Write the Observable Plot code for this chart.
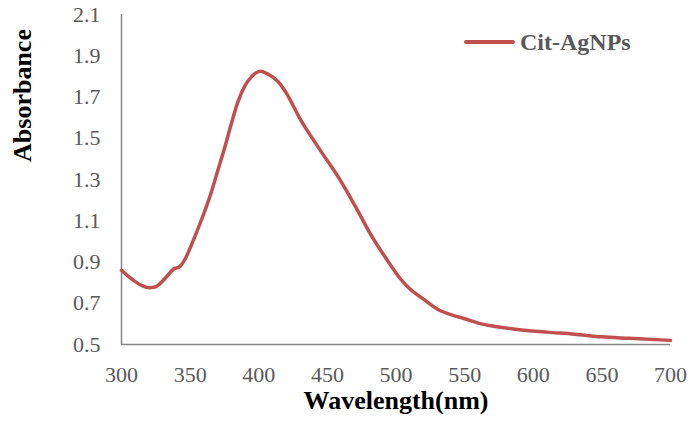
<!DOCTYPE html>
<html>
<head>
<meta charset="utf-8">
<script src="https://cdn.jsdelivr.net/npm/d3@7"></script>
<script src="https://cdn.jsdelivr.net/npm/@observablehq/plot@0.6"></script>
<style>
  html, body { margin: 0; padding: 0; background: #fff; }
  #wrap { position: relative; width: 692px; height: 421px; font-family: "Liberation Serif", "Times New Roman", serif; }
  #legend { position: absolute; left: 464px; top: 28px; display: flex; align-items: center; }
  #legend .sw { width: 51px; height: 4px; border-radius: 2px; background: #C0504D; margin-right: 5px; }
  #legend .lb { font-weight: bold; font-size: 24px; color: #595959; line-height: 28px; }
</style>
</head>
<body>
<div id="wrap">
  <div id="legend"><div class="sw"></div><div class="lb">Cit-AgNPs</div></div>
</div>
<script>
const seriesName = "Cit-AgNPs";
const wavelength = [300,305,310,315,320,325,328,333,338,342,346,352,358,365,370,375,380,385,390,395,401,407,414,420,430,445,460,472,481,494,503,510,520,532,540,550,562,575,590,610,630,650,670,700];
const absorbance = [0.86,0.83,0.805,0.785,0.775,0.78,0.795,0.83,0.866,0.875,0.91,1.0,1.10,1.23,1.34,1.45,1.57,1.68,1.755,1.80,1.825,1.81,1.775,1.72,1.595,1.44,1.29,1.15,1.04,0.905,0.82,0.77,0.72,0.665,0.645,0.625,0.60,0.585,0.572,0.56,0.55,0.537,0.53,0.52];
const xTicks = [300,350,400,450,500,550,600,650,700];
const yTicks = [0.5,0.7,0.9,1.1,1.3,1.5,1.7,1.9,2.1];
const xTitle = "Wavelength(nm)";
const yTitle = "Absorbance";

const data = wavelength.map((w, i) => ({w, a: absorbance[i]}));
const font = '"Liberation Serif", "Times New Roman", serif';

const chart = Plot.plot({
  width: 692,
  height: 421,
  marginLeft: 121,
  marginRight: 22,
  marginTop: 14,
  marginBottom: 77,
  style: {fontFamily: font, background: "transparent"},
  x: {domain: [300, 700]},
  y: {domain: [0.5, 2.1]},
  marks: [
    Plot.axisX({ticks: xTicks, tickSize: 0, tickPadding: 22, fontSize: 22, fill: "#595959", label: null, tickFormat: d => String(d)}),
    Plot.axisY({ticks: yTicks, tickSize: 0, tickPadding: 21, fontSize: 22, fill: "#595959", label: null, tickFormat: d => d.toFixed(1)}),
    Plot.ruleX([xTicks[0]], {stroke: "#868686", strokeWidth: 1.5}),
    Plot.ruleY([yTicks[0]], {stroke: "#868686", strokeWidth: 1.5}),
    Plot.line(data, {x: "w", y: "a", stroke: "#C0504D", strokeWidth: 3.5, curve: "monotone-x"}),
    Plot.text([xTitle], {frameAnchor: "bottom", dy: 56, text: d => d, textAnchor: "middle", lineAnchor: "middle", fontSize: 26, fontWeight: "bold", fill: "#000"}),
    Plot.text([yTitle], {frameAnchor: "top-left", dx: -99, dy: 81, rotate: -90, text: d => d, textAnchor: "middle", lineAnchor: "middle", fontSize: 26, fontWeight: "bold", fill: "#000"})
  ]
});
document.getElementById("wrap").prepend(chart);
chart.style.position = "absolute";
chart.style.left = "0";
chart.style.top = "0";
</script>
</body>
</html>
